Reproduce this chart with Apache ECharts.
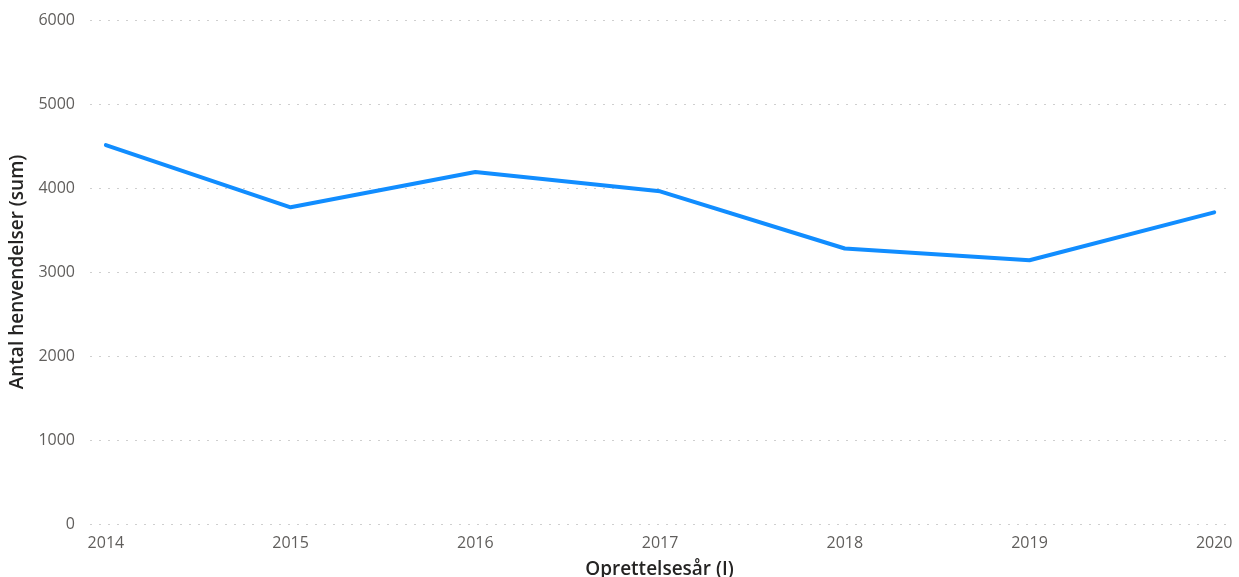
<!DOCTYPE html>
<html>
<head>
<meta charset="utf-8">
<script src="https://cdn.jsdelivr.net/npm/echarts@6/dist/echarts.min.js"></script>
<style>
  html, body { margin: 0; padding: 0; background: #fff; }
  #main { width: 1239px; height: 577px; }
</style>
</head>
<body>
<div id="main"></div>
<script>
// data
const years = [2014, 2015, 2016, 2017, 2018, 2019, 2020];
const henvendelser = [4510, 3770, 4190, 3960, 3280, 3140, 3710];

const chart = echarts.init(document.getElementById('main'));

const titleFont = { fontFamily: 'Open Sans', fontSize: 19, fontWeight: 600, color: '#252423' };

const option = {
  animation: false,
  grid: { left: 90, right: 10, top: 20, bottom: 53, outerBoundsMode: 'none', containLabel: false },
  xAxis: {
    type: 'value',
    min: 2013.914,
    max: 2020.08,
    name: 'Oprettelsesår (I)',
    nameLocation: 'middle',
    nameGap: 36,
    nameTextStyle: titleFont,
    axisLine: { show: false },
    axisTick: { show: false },
    splitLine: { show: false },
    axisLabel: {
      showMinLabel: false,
      showMaxLabel: false,
      margin: 11,
      fontFamily: 'Open Sans',
      fontSize: 16,
      color: '#605E5C',
      formatter: v => (Number.isInteger(v) ? String(v) : '')
    }
  },
  yAxis: {
    type: 'value',
    min: 0,
    max: 6000,
    interval: 1000,
    name: 'Antal henvendelser (sum)',
    nameLocation: 'middle',
    nameGap: 61,
    nameTextStyle: titleFont,
    axisLine: { show: false },
    axisTick: { show: false },
    axisLabel: { margin: 15, fontFamily: 'Open Sans', fontSize: 16, color: '#605E5C', formatter: v => String(v) },
    splitLine: { lineStyle: { color: '#cfcfcf', width: 1, type: [2, 7] } }
  },
  series: [{
    type: 'line',
    data: years.map((y, i) => [y, henvendelser[i]]),
    showSymbol: false,
    lineStyle: { color: '#118DFF', width: 4, cap: 'round', join: 'round' },
    itemStyle: { color: '#118DFF' }
  }]
};

chart.setOption(option);
</script>
</body>
</html>
